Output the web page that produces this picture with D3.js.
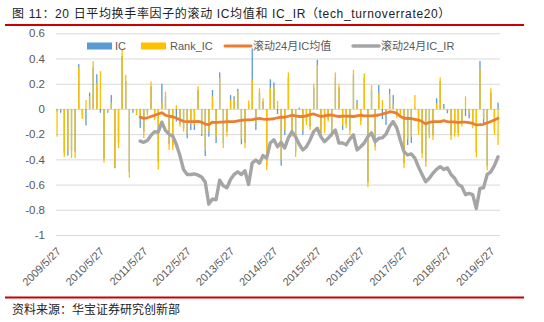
<!DOCTYPE html>
<html>
<head>
<meta charset="utf-8">
<script src="https://cdn.jsdelivr.net/npm/d3@7"></script>
<style>
  body { margin: 0; background: #fff; }
  svg { display: block; }
</style>
</head>
<body>
<svg id="chart" width="544" height="322"></svg>
<script>
// Monthly IC of the 20-day average turnover factor (Pearson and rank)
const ic = [
  -0.02, -0.03, -0.35, -0.37, -0.33, -0.34, 0.355, -0.05, -0.13, 0.13,
  0.33, 0.275, -0.03, -0.40, -0.03, 0.11, -0.47, -0.27, 0.42, 0.22,
  -0.50, -0.03, -0.03, -0.15, -0.18, -0.03, 0.18, -0.07, -0.42, 0.20,
  0.10, -0.28, -0.29, -0.10, -0.12, -0.15, -0.233, -0.167, -0.167, 0.15,
  -0.214, -0.373, -0.22, 0.15, -0.27, 0.29, -0.27, -0.18, 0.11, 0.10,
  0.16, -0.28, -0.27, 0.04, 0.48, -0.167, 0.13, 0.06, -0.45, 0.235,
  0.21, -0.04, -0.45, -0.206, 0.25, -0.19, -0.34, 0.01, -0.206, -0.10,
  -0.14, 0.17, 0.39, -0.19, -0.16, -0.08, -0.19, 0.25, 0.17, -0.167,
  -0.12, -0.17, 0.27, 0.07, -0.10, 0.25, -0.58, 0.15, -0.30, 0.19,
  -0.08, -0.127, 0.16, 0.11, -0.05, -0.04, -0.43, -0.286, -0.27, 0.01,
  -0.17, -0.35, -0.42, -0.20, -0.21, 0.085, 0.22, 0.04, -0.034, -0.21,
  -0.19, -0.19, -0.11, -0.056, -0.074, -0.12, -0.34, 0.38, -0.114, -0.45,
  0.13, -0.17, 0.05
];
const rankIc = [
  -0.22, -0.01, -0.38, -0.33, -0.39, -0.39, 0.33, -0.08, 0.07, 0.10,
  0.38, 0.20, 0.30, -0.425, -0.02, 0.05, -0.46, -0.31, 0.476, 0.27,
  -0.545, -0.01, -0.05, -0.06, -0.23, -0.05, 0.217, -0.09, -0.48, 0.058,
  0.137, -0.325, -0.325, 0.03, -0.14, -0.18, -0.20, -0.12, -0.13, 0.18,
  -0.20, -0.33, -0.18, 0.10, -0.22, 0.25, -0.31, -0.22, 0.07, 0.08,
  0.14, -0.24, -0.31, 0.066, 0.235, -0.12, 0.164, 0.085, -0.484, 0.164,
  0.17, 0.063, -0.405, -0.17, 0.29, -0.22, -0.38, -0.01, -0.17, -0.127,
  -0.167, 0.20, 0.35, -0.22, -0.19, -0.10, -0.22, 0.29, 0.20, -0.13,
  -0.153, -0.206, 0.31, 0.04, -0.127, 0.283, -0.62, 0.19, -0.33, 0.12,
  0.07, -0.03, 0.12, 0.045, -0.074, -0.06, -0.47, -0.24, -0.22, 0.11,
  -0.206, -0.39, -0.46, -0.233, -0.246, 0.045, 0.25, 0.01, -0.01, -0.246,
  -0.22, -0.22, -0.14, 0.10, -0.03, -0.153, -0.384, 0.32, -0.08, -0.487,
  0.164, -0.206, -0.286
];

// 24-month rolling statistics, available from the 24th month on
const rollStart = 23;
const rollMean = [
  -0.065, -0.075, -0.07, -0.06, -0.05, -0.04, -0.03, -0.05, -0.058, -0.062,
  -0.072, -0.085, -0.098, -0.10, -0.10, -0.10, -0.098, -0.105, -0.12, -0.125,
  -0.105, -0.108, -0.105, -0.105, -0.10, -0.10, -0.10, -0.095, -0.09, -0.087,
  -0.087, -0.085, -0.078, -0.074, -0.08, -0.082, -0.08, -0.078, -0.07, -0.066,
  -0.066, -0.058, -0.05, -0.055, -0.06, -0.06, -0.055, -0.045, -0.04, -0.05,
  -0.06, -0.055, -0.05, -0.048, -0.055, -0.06, -0.057, -0.057, -0.058, -0.06,
  -0.055, -0.05, -0.055, -0.055, -0.055, -0.052, -0.048, -0.04, -0.034, -0.022,
  -0.025, -0.035, -0.06, -0.074, -0.076, -0.076, -0.082, -0.088, -0.10, -0.119,
  -0.106, -0.10, -0.10, -0.10, -0.093, -0.10, -0.103, -0.103, -0.108, -0.105,
  -0.105, -0.108, -0.115, -0.127, -0.125, -0.122, -0.11, -0.10, -0.087, -0.074
];
const rollIr = [
  -0.255, -0.265, -0.25, -0.21, -0.18, -0.185, -0.105, -0.17, -0.20, -0.215,
  -0.28, -0.37, -0.48, -0.52, -0.52, -0.515, -0.525, -0.54, -0.58, -0.755,
  -0.715, -0.72, -0.565, -0.61, -0.625, -0.56, -0.52, -0.50, -0.52, -0.49,
  -0.60, -0.43, -0.405, -0.43, -0.37, -0.39, -0.27, -0.245, -0.30, -0.265,
  -0.31, -0.23, -0.18, -0.22, -0.28, -0.325, -0.30, -0.246, -0.18, -0.153,
  -0.22, -0.26, -0.233, -0.20, -0.167, -0.27, -0.27, -0.285, -0.24, -0.206,
  -0.325, -0.30, -0.27, -0.22, -0.19, -0.26, -0.233, -0.23, -0.20, -0.14,
  -0.10, -0.15, -0.25, -0.34, -0.365, -0.357, -0.39, -0.46, -0.52, -0.577,
  -0.55, -0.51, -0.48, -0.458, -0.48, -0.468, -0.52, -0.55, -0.60, -0.616,
  -0.68, -0.67, -0.68, -0.79, -0.63, -0.625, -0.52, -0.50, -0.45, -0.38
];

const yTicks = [0.6, 0.4, 0.2, 0, -0.2, -0.4, -0.6, -0.8, -1];
const xTickLabels = [
  "2009/5/27", "2010/5/27", "2011/5/27", "2012/5/27", "2013/5/27", "2014/5/27",
  "2015/5/27", "2016/5/27", "2017/5/27", "2018/5/27", "2019/5/27"
];

// month-end category labels, one per observation, starting 2009/5/27
const months = [];
{
  let yr = 2009, mo = 5;
  while (months.length < ic.length) {
    months.push(yr + "/" + mo + "/27");
    mo += 1;
    if (mo > 12) { mo = 1; yr += 1; }
  }
}

const colors = { ic: "#5b9bd5", rank: "#ffc000", mean: "#ed7d31", ir: "#a5a5a5" };
const latin = "'Liberation Sans', Arial, 'Noto Sans CJK SC', sans-serif";

const svg = d3.select("#chart");
svg.append("rect").attr("width", 544).attr("height", 322).attr("fill", "#fff");

const plotLeft = 56, plotRight = 500;
const x = d3.scalePoint().domain(months).range([57, 498]);
const y = d3.scaleLinear().domain([-1, 0.6]).range([235, 33.3]);

// title and rules
svg.append("text")
  .attr("x", 12).attr("y", 18)
  .attr("font-family", latin).attr("font-size", 12).attr("fill", "#222")
  .attr("letter-spacing", 0.65)
  .text("图 11：20 日平均换手率因子的滚动 IC均值和 IC_IR（tech_turnoverrate20）");
svg.append("line").attr("x1", 5).attr("x2", 524).attr("y1", 25).attr("y2", 25)
  .attr("stroke", "#cc0000").attr("stroke-width", 2);
svg.append("line").attr("x1", 5).attr("x2", 524).attr("y1", 297.5).attr("y2", 297.5)
  .attr("stroke", "#cc0000").attr("stroke-width", 2);
svg.append("text")
  .attr("x", 12).attr("y", 314)
  .attr("font-family", latin).attr("font-size", 12).attr("fill", "#222")
  .text("资料来源：华宝证券研究创新部");

// value axis with horizontal gridlines
const yAxis = svg.append("g")
  .attr("transform", `translate(${plotLeft},0)`)
  .call(d3.axisLeft(y).tickValues(yTicks).tickSize(-(plotRight - plotLeft)).tickPadding(11)
    .tickFormat(d => String(d)));
yAxis.select(".domain").remove();
yAxis.selectAll(".tick line").attr("stroke", "#d9d9d9").attr("stroke-width", 1);
yAxis.selectAll(".tick text")
  .attr("font-family", latin).attr("font-size", 11.5).attr("fill", "#595959");

// category axis with rotated date labels
const xAxis = svg.append("g")
  .attr("transform", `translate(0,${y(-1)})`)
  .call(d3.axisBottom(x).tickValues(xTickLabels).tickSize(0));
xAxis.select(".domain").remove();
xAxis.selectAll(".tick text")
  .attr("x", 0).attr("y", 0).attr("dy", null)
  .attr("transform", "translate(4,17) rotate(-45)")
  .attr("text-anchor", "end")
  .attr("font-family", latin).attr("font-size", 11).attr("fill", "#595959");

// overlapping columns: IC behind, Rank_IC in front
function drawBars(values, color) {
  svg.append("g").selectAll("rect")
    .data(values)
    .join("rect")
    .attr("x", (d, i) => x(months[i]) - 0.6)
    .attr("width", 1.3)
    .attr("y", d => y(Math.max(0, d)))
    .attr("height", d => Math.abs(y(d) - y(0)))
    .attr("fill", color);
}
drawBars(ic, colors.ic);
drawBars(rankIc, colors.rank);

// rolling lines
function drawLine(values, color, width) {
  const line = d3.line()
    .x((d, i) => x(months[rollStart + i]))
    .y(d => y(d));
  svg.append("path")
    .datum(values)
    .attr("d", line)
    .attr("fill", "none")
    .attr("stroke", color)
    .attr("stroke-width", width)
    .attr("stroke-linejoin", "round")
    .attr("stroke-linecap", "round");
}
drawLine(rollMean, colors.mean, 2.8);
drawLine(rollIr, colors.ir, 3.4);

// legend
const legend = svg.append("g").attr("font-family", latin).attr("font-size", 11).attr("fill", "#595959");
const ly = 46;
legend.append("rect").attr("x", 87).attr("y", ly - 3.5).attr("width", 25).attr("height", 7).attr("fill", colors.ic);
legend.append("text").attr("x", 115).attr("y", ly).attr("dy", "0.36em").text("IC");
legend.append("rect").attr("x", 141).attr("y", ly - 3.5).attr("width", 25).attr("height", 7).attr("fill", colors.rank);
legend.append("text").attr("x", 170).attr("y", ly).attr("dy", "0.36em").text("Rank_IC");
legend.append("line").attr("x1", 225).attr("x2", 251).attr("y1", ly).attr("y2", ly)
  .attr("stroke", colors.mean).attr("stroke-width", 3).attr("stroke-linecap", "round");
legend.append("text").attr("x", 253).attr("y", ly).attr("dy", "0.36em").text("滚动24月IC均值");
legend.append("line").attr("x1", 353).attr("x2", 379).attr("y1", ly).attr("y2", ly)
  .attr("stroke", colors.ir).attr("stroke-width", 3.4).attr("stroke-linecap", "round");
legend.append("text").attr("x", 381).attr("y", ly).attr("dy", "0.36em").text("滚动24月IC_IR");
</script>
</body>
</html>
